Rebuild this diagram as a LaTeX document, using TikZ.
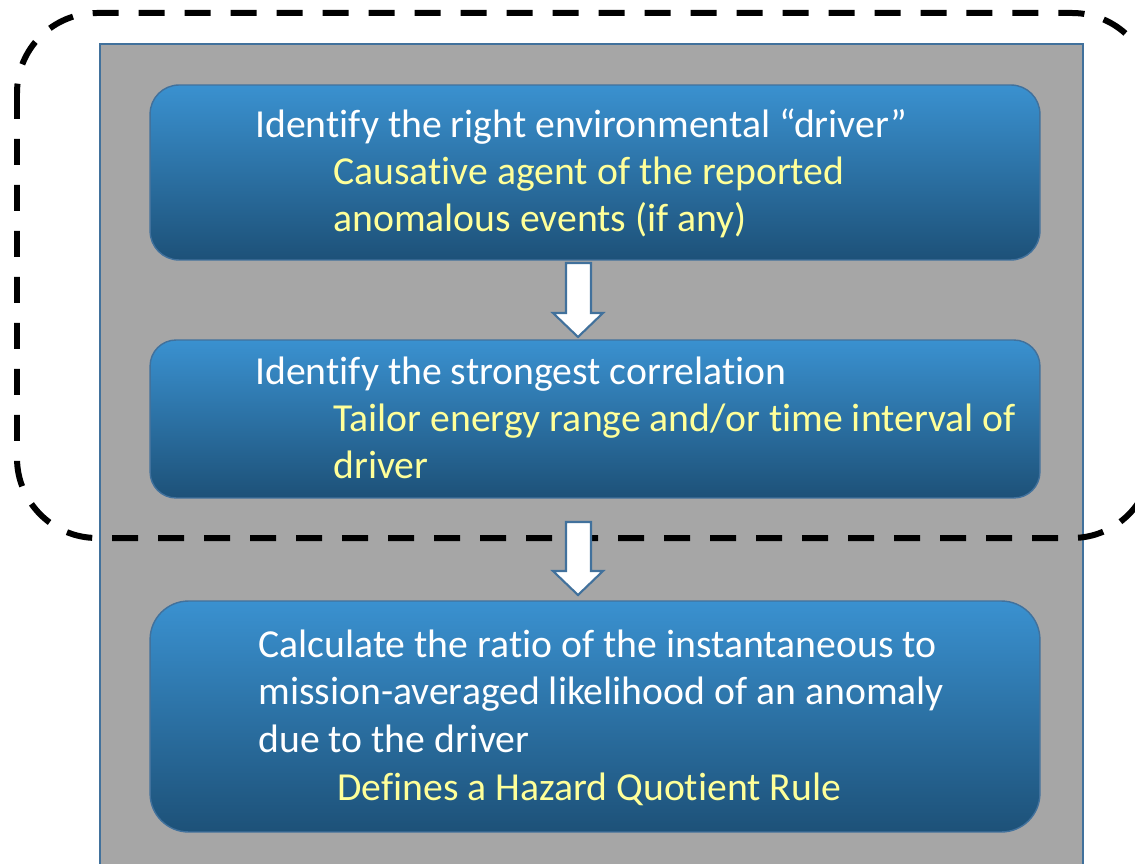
\documentclass[tikz,border=0pt]{standalone}
\usepackage{fontspec}
\setmainfont[Ligatures={NoCommon}]{Carlito}
\usetikzlibrary{calc}
\definecolor{panelgray}{RGB}{166,166,166}
\definecolor{edgeblue}{RGB}{65,113,156}
\definecolor{boxtop}{RGB}{58,145,208}
\definecolor{boxbottom}{RGB}{29,81,120}
\definecolor{noteyellow}{RGB}{255,255,153}

\begin{document}
\begin{tikzpicture}[x=0.02cm, y=-0.02cm,
        step box/.style = {draw=edgeblue, line width=0.8pt, top color=boxtop, bottom color=boxbottom,
                inner sep=0pt, outer sep=0pt, minimum width=17.8cm},
        head/.style = {anchor=base west, inner sep=0pt, text=white, font=\fontsize{22.6}{27}\selectfont},
        note/.style = {head, text=noteyellow},
        block arrow/.style = {draw=edgeblue, fill=white, line width=1.2pt, line join=miter}]
    \clip (0,0) rectangle (1135,864);
    % grey panel and the dashed group around the first two steps
    \draw[draw=edgeblue, fill=panelgray, line width=0.8pt] (100,44) rectangle (1083,900);
    \draw[line width=0.12cm, dash pattern=on 0.52cm off 0.4cm, rounded corners=1.6cm] (17,13) rectangle (1152,538);

    \node[step box, rounded corners=0.58cm, minimum height=3.5cm] (box1) at (595,172.5) {};
    \node[step box, rounded corners=0.52cm, minimum height=3.16cm] (box2) at (595,419) {};
    \node[step box, rounded corners=0.77cm, minimum height=4.62cm] (box3) at (595,716.5) {};

    \node[head] (t11) at (255,138) {Identify the right environmental “driver”};
    \node[note] (t12) at (333,185) {Causative agent of the reported};
    \node[note] (t13) at (333,232) {anomalous events (if any)};

    \node[head] (t21) at (255,385) {Identify the strongest correlation};
    \node[note] (t22) at (333,432) {Tailor energy range and/or time interval of};
    \node[note] (t23) at (333,478) {driver};

    \node[head] (t31) at (258,657) {Calculate the ratio of the instantaneous to};
    \node[head] (t32) at (258,704) {mission-averaged likelihood of an anomaly};
    \node[head] (t33) at (258,752) {due to the driver};
    \node[note] (t34) at (337,800) {Defines a Hazard Quotient Rule};

    % hollow arrows between the steps
    \draw[block arrow] ($(box1.south)+(-29,3)$) -- ++(25,0) -- ++(0,50) -- ++(12,0)
        -- ($(box2.north)+(-17,-3)$) -- ++(-25,-24) -- ++(13,0) -- cycle;
    \draw[block arrow] ($(box2.south)+(-29,24)$) -- ++(25,0) -- ++(0,49) -- ++(12,0)
        -- ($(box3.north)+(-17,-6)$) -- ++(-25,-24) -- ++(13,0) -- cycle;
\end{tikzpicture}
\end{document}
